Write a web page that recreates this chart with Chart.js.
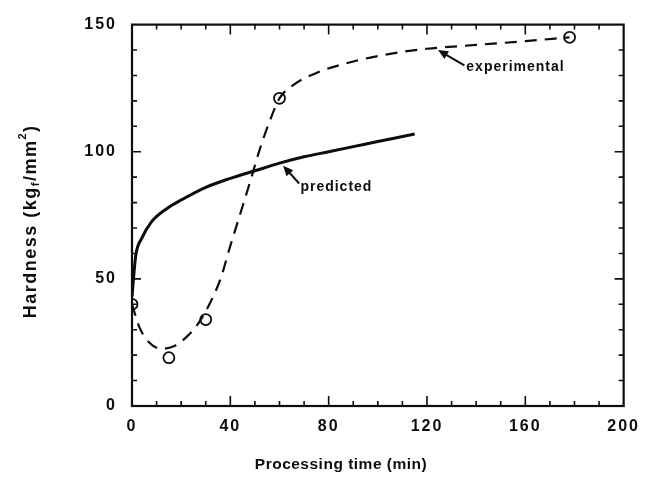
<!DOCTYPE html>
<html lang="en">
<head>
  <meta charset="UTF-8">
  <title>Hardness vs processing time</title>
  <script src="https://cdn.jsdelivr.net/npm/chart.js"></script>
  <style>
    html, body {
      margin: 0;
      padding: 0;
      background: #fff;
    }
    .chart-box {
      width: 648px;
      height: 477px;
      position: relative;
    }
  </style>
</head>
<body>

<div class="chart-box">
  <canvas id="hardnessChart"></canvas>
</div>

<script>
// measured hardness (open circles)
const expTime = [0, 15, 30, 60, 178];
const expHardness = [40, 19, 34, 121, 145];

// dashed curve drawn through the experimental points
const fitTime = [0, 3, 7, 12, 17, 22, 27, 32, 36, 40, 44, 48, 52, 56, 60, 66, 75, 90, 105, 120, 140, 160, 178];
const fitHardness = [40, 31, 25, 22.5, 23.5, 27, 32.5, 41, 50, 63, 75.5, 88, 101, 112, 121, 126.5, 131, 135.5, 138.5, 140.5, 142, 143.5, 145];

// predicted hardness (solid curve)
const predTime = [0, 1.5, 4, 8, 14, 20, 30, 40, 50, 60, 70, 80, 90, 100, 115];
const predHardness = [43, 59, 66, 72.5, 77.5, 81, 86, 89.5, 92.5, 95.5, 98, 100, 102, 104, 107];

// axis ticks
const xTicks = [0, 40, 80, 120, 160, 200];
const yTicks = [0, 50, 100, 150];

const FONT = "'Liberation Sans', Arial, sans-serif";
const INK = '#0d0d0d';

function toPoints(xs, ys) {
  return xs.map((x, i) => ({ x: x, y: ys[i] }));
}

// labels with arrows, placed in data units
const notes = [
  { text: 'experimental', x: 136, y: 133.3, fromX: 135.2, fromY: 134, toX: 124.5, toY: 140 },
  { text: 'predicted', x: 68.5, y: 86.2, fromX: 68, fromY: 87.5, toX: 61.5, toY: 94.5 }
];

const framePlugin = {
  id: 'frame',
  beforeDraw(chart) {
    chart.ctx.letterSpacing = '2px';
  },
  afterDraw(chart) {
    const ctx = chart.ctx;
    const a = chart.chartArea;
    const xs = chart.scales.x;
    const ys = chart.scales.y;

    ctx.save();
    ctx.strokeStyle = INK;
    ctx.fillStyle = INK;

    // inward ticks, every 10 units
    ctx.lineWidth = 1.6;
    ctx.beginPath();
    for (let v = 10; v < 200; v += 10) {
      const px = xs.getPixelForValue(v);
      const len = v % 40 === 0 ? 10 : 5;
      ctx.moveTo(px, a.bottom); ctx.lineTo(px, a.bottom - len);
      ctx.moveTo(px, a.top); ctx.lineTo(px, a.top + len);
    }
    for (let v = 10; v < 150; v += 10) {
      const py = ys.getPixelForValue(v);
      const len = v % 50 === 0 ? 9 : 5;
      ctx.moveTo(a.left, py); ctx.lineTo(a.left + len, py);
      ctx.moveTo(a.right, py); ctx.lineTo(a.right - len, py);
    }
    ctx.stroke();

    // frame
    ctx.lineWidth = 2.2;
    ctx.strokeRect(a.left, a.top, a.right - a.left, a.bottom - a.top);

    // notes and arrows
    ctx.letterSpacing = '1px';
    ctx.font = 'bold 14px ' + FONT;
    ctx.textAlign = 'left';
    ctx.textBaseline = 'middle';
    notes.forEach(n => {
      ctx.fillText(n.text, xs.getPixelForValue(n.x), ys.getPixelForValue(n.y));
      const x0 = xs.getPixelForValue(n.fromX), y0 = ys.getPixelForValue(n.fromY);
      const x1 = xs.getPixelForValue(n.toX), y1 = ys.getPixelForValue(n.toY);
      const ang = Math.atan2(y1 - y0, x1 - x0);
      ctx.lineWidth = 2;
      ctx.beginPath();
      ctx.moveTo(x0, y0);
      ctx.lineTo(x1 - 6 * Math.cos(ang), y1 - 6 * Math.sin(ang));
      ctx.stroke();
      ctx.beginPath();
      ctx.moveTo(x1, y1);
      ctx.lineTo(x1 - 10 * Math.cos(ang) + 4.5 * Math.sin(ang), y1 - 10 * Math.sin(ang) - 4.5 * Math.cos(ang));
      ctx.lineTo(x1 - 10 * Math.cos(ang) - 4.5 * Math.sin(ang), y1 - 10 * Math.sin(ang) + 4.5 * Math.cos(ang));
      ctx.closePath();
      ctx.fill();
    });

    // x title
    ctx.letterSpacing = '0.5px';
    ctx.font = 'bold 15.5px ' + FONT;
    ctx.textAlign = 'center';
    ctx.fillText('Processing time (min)', 341, 465);

    // y title with subscript and superscript
    ctx.translate(31, (a.top + a.bottom) / 2 + 6);
    ctx.rotate(-Math.PI / 2);
    const parts = [
      { t: 'Hardness (kg', size: 18, dy: 0 },
      { t: 'f', size: 11, dy: 5 },
      { t: '/mm', size: 18, dy: 0 },
      { t: '2', size: 11, dy: -8 },
      { t: ')', size: 18, dy: 0 }
    ];
    ctx.letterSpacing = '1.5px';
    let total = 0;
    parts.forEach(p => {
      ctx.font = 'bold ' + p.size + 'px ' + FONT;
      p.w = ctx.measureText(p.t).width;
      total += p.w;
    });
    let cx = -total / 2;
    ctx.textAlign = 'left';
    parts.forEach(p => {
      ctx.font = 'bold ' + p.size + 'px ' + FONT;
      ctx.fillText(p.t, cx, p.dy);
      cx += p.w;
    });
    ctx.restore();
  }
};

new Chart(document.getElementById('hardnessChart'), {
  type: 'scatter',
  data: {
    datasets: [
      {
        label: 'predicted',
        data: toPoints(predTime, predHardness),
        showLine: true,
        borderColor: INK,
        borderWidth: 3,
        pointRadius: 0,
        cubicInterpolationMode: 'monotone'
      },
      {
        label: 'experimental fit',
        data: toPoints(fitTime, fitHardness),
        showLine: true,
        borderColor: INK,
        borderWidth: 2.2,
        borderDash: [12, 8],
        pointRadius: 0,
        cubicInterpolationMode: 'monotone'
      },
      {
        label: 'experimental',
        data: toPoints(expTime, expHardness),
        showLine: false,
        pointRadius: 5.5,
        pointBorderWidth: 1.8,
        pointBorderColor: INK,
        pointBackgroundColor: '#fff'
      }
    ]
  },
  options: {
    responsive: true,
    maintainAspectRatio: false,
    animation: false,
    layout: { padding: { top: 17, right: 24, left: 0, bottom: 0 } },
    plugins: {
      legend: { display: false },
      tooltip: { enabled: false }
    },
    scales: {
      x: {
        type: 'linear',
        min: 0,
        max: 200,
        afterFit(scale) { scale.height = 71; },
        afterBuildTicks(scale) { scale.ticks = xTicks.map(v => ({ value: v })); },
        grid: { display: false, drawTicks: false },
        border: { display: false },
        ticks: {
          color: INK,
          padding: 11,
          font: { family: FONT, size: 16, weight: 'bold' }
        }
      },
      y: {
        type: 'linear',
        min: 0,
        max: 150,
        afterFit(scale) { scale.width = 132; },
        afterBuildTicks(scale) { scale.ticks = yTicks.map(v => ({ value: v })); },
        grid: { display: false, drawTicks: false },
        border: { display: false },
        ticks: {
          color: INK,
          padding: 15,
          font: { family: FONT, size: 16, weight: 'bold' }
        }
      }
    }
  },
  plugins: [framePlugin]
});
</script>

</body>
</html>
